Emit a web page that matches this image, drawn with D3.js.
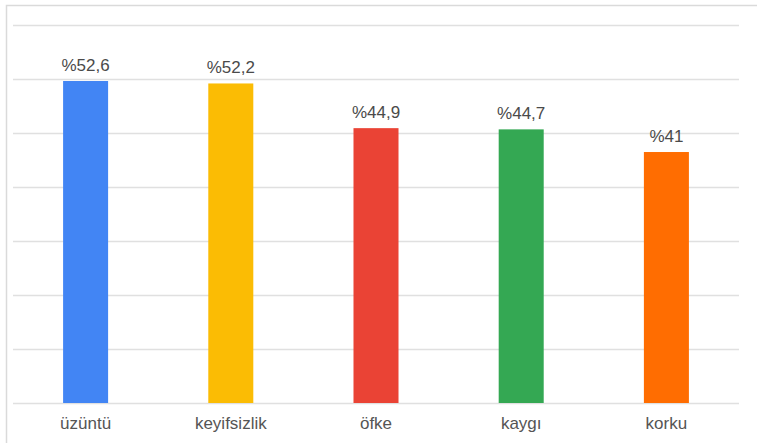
<!DOCTYPE html>
<html>
<head>
<meta charset="utf-8">
<script src="https://cdn.jsdelivr.net/npm/d3@7"></script>
<style>
html,body{margin:0;padding:0;background:#fff;}
svg{display:block;}
text{font-family:Arial,"Liberation Sans",sans-serif;}
</style>
</head>
<body>
<svg id="chart" width="757" height="443"></svg>
<script>
const categories = ["üzüntü", "keyifsizlik", "öfke", "kaygı", "korku"];
const values = [52.6, 52.2, 44.9, 44.7, 41];
const valueLabels = ["%52,6", "%52,2", "%44,9", "%44,7", "%41"];
const colors = ["#4285F4", "#FBBC04", "#EA4335", "#34A853", "#FF6D01"];
const yMax = 61.75;
const gridCount = 7;

const svg = d3.select("#chart");
const W = 757, H = 443;
const plot = {left: 13, right: 739, top: 25, bottom: 403};

// outer frame
svg.append("rect")
  .attr("x", 6.5).attr("y", 5.5)
  .attr("width", 820).attr("height", 520)
  .attr("fill", "none").attr("stroke", "#dadada").attr("stroke-width", 1.5);

const x = d3.scaleBand()
  .domain(categories)
  .range([plot.left, plot.right])
  .paddingInner(0.69)
  .paddingOuter(0.345);

const y = d3.scaleLinear()
  .domain([0, yMax])
  .range([plot.bottom, plot.top]);

const gridVals = d3.range(0, gridCount + 1).map(i => i * yMax / gridCount);

const yAxis = d3.axisLeft(y)
  .tickValues(gridVals)
  .tickSize(-(plot.right - plot.left))
  .tickFormat("");

const gy = svg.append("g")
  .attr("transform", `translate(${plot.left},0)`)
  .call(yAxis);
gy.select(".domain").remove();
gy.selectAll(".tick line").attr("stroke", "#e0e0e0").attr("stroke-width", 1.5);

// bars
svg.append("g").selectAll("rect")
  .data(values)
  .join("rect")
  .attr("x", (d, i) => x(categories[i]))
  .attr("y", d => y(d))
  .attr("width", x.bandwidth())
  .attr("height", d => y(0) - y(d))
  .attr("fill", (d, i) => colors[i]);

// value labels
svg.append("g").selectAll("text")
  .data(values)
  .join("text")
  .attr("x", (d, i) => x(categories[i]) + x.bandwidth() / 2)
  .attr("y", d => y(d) - 10)
  .attr("text-anchor", "middle")
  .attr("font-size", 17)
  .attr("fill", "#4a4a4a")
  .text((d, i) => valueLabels[i]);

// x axis labels
const xAxis = d3.axisBottom(x).tickSize(0).tickPadding(14);
const gx = svg.append("g")
  .attr("transform", `translate(0,${plot.bottom})`)
  .call(xAxis);
gx.select(".domain").remove();
gx.selectAll(".tick text")
  .attr("font-size", 17)
  .attr("font-family", "Arial, 'Liberation Sans', sans-serif")
  .attr("fill", "#555");
</script>
</body>
</html>
